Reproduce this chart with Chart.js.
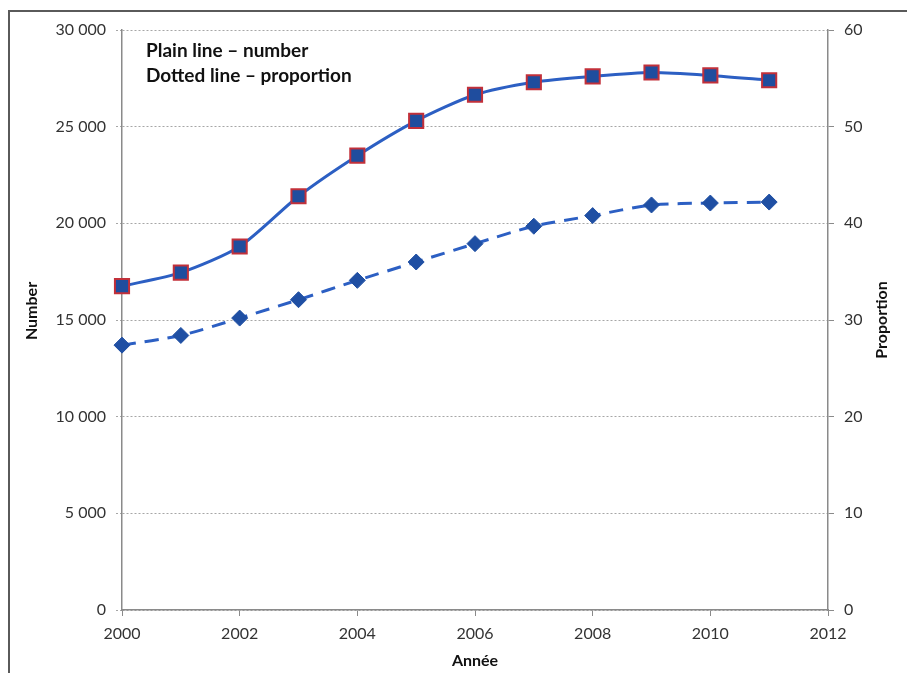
<!DOCTYPE html>
<html>
<head>
<meta charset="utf-8">
<script src="https://cdn.jsdelivr.net/npm/chart.js@4/dist/chart.umd.min.js"></script>
<style>
  html, body { margin: 0; padding: 0; background: #fff; }
  #wrap { width: 907px; height: 673px; position: relative; }
</style>
</head>
<body>
<div id="wrap"><canvas id="chart" width="907" height="673"></canvas></div>
<script>
// Years on the horizontal axis
const years = [2000, 2001, 2002, 2003, 2004, 2005, 2006, 2007, 2008, 2009, 2010, 2011];
// Number of cases (left axis)
const numberValues = [16750, 17450, 18800, 21400, 23500, 25300, 26650, 27300, 27600, 27800, 27650, 27400];
// Proportion (right axis)
const proportionValues = [27.4, 28.4, 30.2, 32.1, 34.1, 36.0, 37.9, 39.7, 40.8, 41.9, 42.1, 42.2];
// Text drawn on the chart
const noteLines = ['Plain line \u2013 number', 'Dotted line \u2013 proportion'];
const leftTitle = 'Number';
const rightTitle = 'Proportion';
const bottomTitle = 'Ann\u00e9e';

const FONT = 'Lato, "Open Sans", sans-serif';
const TICK_COLOR = '#333';
const AXIS_COLOR = '#8a8a8a';
const GRID_COLOR = '#a6a6a6';

function fmtThousands(v) {
  return String(v).replace(/\B(?=(\d{3})+(?!\d))/g, ' ');
}

// Frame, note and axis titles drawn on the canvas
const decorations = {
  id: 'decorations',
  afterDraw(chart) {
    const ctx = chart.ctx;
    ctx.save();
    // outer frame (top and left edges)
    ctx.strokeStyle = '#5a5a5a';
    ctx.lineWidth = 2;
    ctx.beginPath();
    ctx.moveTo(9, 673);
    ctx.lineTo(9, 11);
    ctx.lineTo(907, 11);
    ctx.stroke();

    // note in the top-left corner of the plot
    ctx.fillStyle = '#111';
    ctx.font = 'bold 19px ' + FONT;
    ctx.textAlign = 'left';
    ctx.textBaseline = 'middle';
    ctx.fillText(noteLines[0], 146, 51);
    ctx.fillText(noteLines[1], 146, 76);

    // axis titles
    ctx.font = 'bold 16px ' + FONT;
    ctx.textAlign = 'center';
    ctx.fillText(bottomTitle, 475, 661);

    ctx.save();
    ctx.translate(32, 311);
    ctx.rotate(-Math.PI / 2);
    ctx.fillText(leftTitle, 0, 0);
    ctx.restore();

    ctx.save();
    ctx.translate(882, 320);
    ctx.rotate(-Math.PI / 2);
    ctx.fillText(rightTitle, 0, 0);
    ctx.restore();

    ctx.restore();
  }
};

const numberPoints = years.map((y, i) => ({ x: y, y: numberValues[i] }));
const proportionPoints = years.map((y, i) => ({ x: y, y: proportionValues[i] }));

new Chart(document.getElementById('chart'), {
  type: 'line',
  data: {
    datasets: [
      {
        label: 'Number',
        data: numberPoints,
        yAxisID: 'y',
        borderColor: '#2c5fc3',
        borderWidth: 3,
        pointStyle: 'rect',
        pointRadius: 10,
        pointBackgroundColor: '#1f4d9e',
        pointBorderColor: '#c2303a',
        pointBorderWidth: 2,
        tension: 0.25,
        fill: false,
        clip: false
      },
      {
        label: 'Proportion',
        data: proportionPoints,
        yAxisID: 'y1',
        borderColor: '#2c5fc3',
        borderWidth: 3,
        borderDash: [14, 9],
        pointStyle: 'rectRot',
        pointRadius: 8,
        pointBackgroundColor: '#1f4fa3',
        pointBorderColor: '#1f4fa3',
        pointBorderWidth: 1,
        tension: 0.25,
        fill: false,
        clip: false
      }
    ]
  },
  options: {
    responsive: false,
    animation: false,
    events: [],
    layout: { padding: { top: 30, left: 0, right: 0, bottom: 0 } },
    plugins: {
      legend: { display: false },
      tooltip: { enabled: false },
      title: { display: false }
    },
    scales: {
      x: {
        type: 'linear',
        min: 2000,
        max: 2012,
        grid: {
          drawOnChartArea: false,
          drawTicks: true,
          tickLength: 6,
          color: AXIS_COLOR
        },
        border: { display: true, color: AXIS_COLOR, width: 1.5 },
        ticks: {
          stepSize: 2,
          padding: 8,
          color: TICK_COLOR,
          font: { family: FONT, size: 16 },
          maxRotation: 0,
          callback: (v) => String(v)
        },
        afterFit(scale) { scale.height = 63; }
      },
      y: {
        position: 'left',
        min: 0,
        max: 30000,
        grid: {
          color: GRID_COLOR,
          lineWidth: 1,
          tickLength: 6,
          tickBorderDash: [2, 2]
        },
        border: { display: true, color: AXIS_COLOR, width: 1.5, dash: [2, 2] },
        ticks: {
          stepSize: 5000,
          padding: 10,
          color: TICK_COLOR,
          font: { family: FONT, size: 16 },
          callback: (v) => fmtThousands(v)
        },
        afterFit(scale) { scale.width = 122; }
      },
      y1: {
        position: 'right',
        min: 0,
        max: 60,
        grid: {
          drawOnChartArea: false,
          color: AXIS_COLOR,
          tickLength: 6
        },
        border: { display: true, color: AXIS_COLOR, width: 1.5 },
        ticks: {
          stepSize: 10,
          padding: 10,
          color: TICK_COLOR,
          font: { family: FONT, size: 16 }
        },
        afterFit(scale) { scale.width = 79; }
      }
    }
  },
  plugins: [decorations]
});
</script>
</body>
</html>
